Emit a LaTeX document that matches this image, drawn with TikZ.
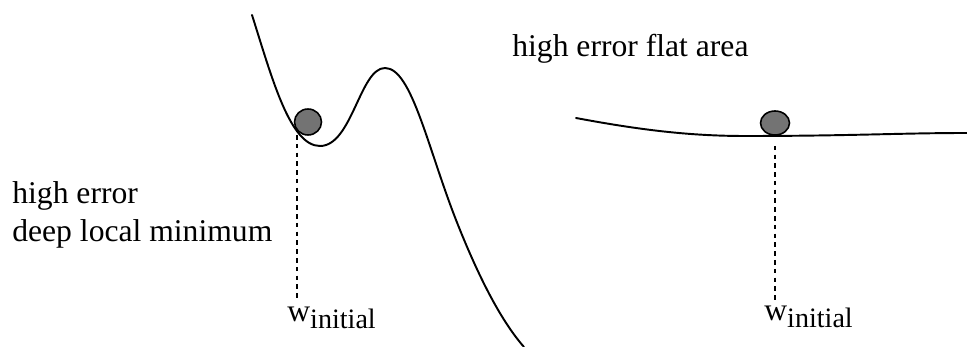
\documentclass[tikz,border=0pt]{standalone}
\usepackage{fontspec}
\setmainfont{Liberation Serif}
\usetikzlibrary{shapes.geometric,positioning}

\begin{document}
\begin{tikzpicture}[
  x=0.02cm, y=-0.02cm,
  curve/.style={line width=1.1pt, line cap=round},
  ball/.style={draw, ellipse, fill=black!55, line width=0.9pt, inner sep=0pt},
  guide/.style={line width=1pt, dash pattern=on 2.6pt off 2.4pt},
  label/.style={inner sep=0pt, font=\fontsize{18}{22}\selectfont, align=left},
  wlabel/.style={inner sep=0pt, anchor=base west}
]
\useasboundingbox (0,0) rectangle (967,347);

% left landscape: deep local minimum
\draw[curve] (252,15) .. controls (272,78) and (290,146) .. (320,146)
  .. controls (352,146) and (360,68) .. (385,68)
  .. controls (412,68) and (428,150) .. (458,225)
  .. controls (480,280) and (502,322) .. (524,347);
\node[ball, minimum width=0.54cm, minimum height=0.52cm] (ballA) at (308,122) {};
\coordinate (footA) at (297,300);
\draw[guide] (297,135) -- (footA);
\node[wlabel] (wA) at (287,322) {\fontsize{18}{20}\selectfont w\raisebox{-0.45ex}{\fontsize{16}{18}\selectfont initial}};
\node[label, anchor=north west] (deep) at (12,181) {high error\\deep local minimum};

% right landscape: flat area
\draw[curve] (576,118) .. controls (640,130) and (690,136) .. (745,136)
  .. controls (850,136) and (900,133) .. (967,133);
\node[ball, minimum width=0.58cm, minimum height=0.48cm] (ballB) at (775,123) {};
\coordinate (footB) at (775,300);
\draw[guide] (ballB.south) ++(0,10) -- (footB);
\node[wlabel] (wB) at (764,321) {\fontsize{18}{20}\selectfont w\raisebox{-0.45ex}{\fontsize{16}{18}\selectfont initial}};
\node[label, anchor=base west] (flat) at (512,57) {high error flat area};
\end{tikzpicture}
\end{document}
